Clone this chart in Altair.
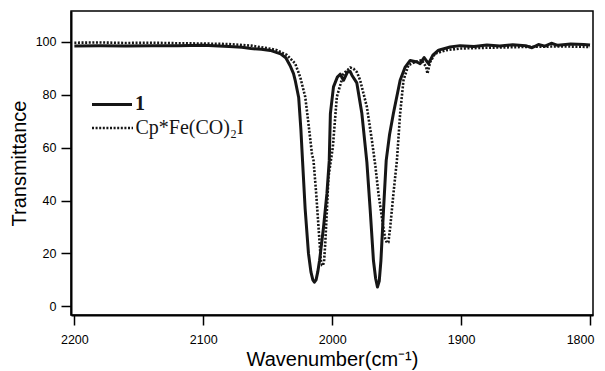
import altair as alt
import pandas as pd

# ---- data (wavenumber in cm^-1, transmittance %) ----
w1 = [2200, 2180, 2160, 2140, 2120, 2100, 2080, 2070, 2063, 2055, 2048, 2040, 2036,
      2032.6, 2030, 2028.7, 2026, 2024.3, 2023, 2021, 2018.4, 2016.5, 2015, 2013.8,
      2012.5, 2011.2, 2009.8, 2006.7, 2004.1, 2002.3, 2001.4, 1999, 1996, 1993.8,
      1991.2, 1988.1, 1986, 1984.7, 1980.9, 1977, 1973.1, 1970.5, 1968, 1966.3,
      1964.9, 1963.5, 1962.2, 1960.2, 1958.1, 1955.5, 1952.5, 1947.3, 1943.4,
      1939.5, 1934.3, 1931.8, 1928.7, 1925.3, 1921.9, 1917.5, 1908.5, 1900.8,
      1890, 1880, 1870, 1860, 1850, 1845, 1840, 1835, 1830, 1825, 1815, 1805, 1800]
t1 = [98.5, 98.6, 98.5, 98.6, 98.6, 98.7, 98.3, 98.0, 97.5, 97.2, 96.8, 95.5, 94.0,
      91.0, 88.0, 85.5, 79.0, 67.0, 55.0, 37.0, 20.0, 13.0, 10.0, 9.1,
      10.0, 13.0, 17.3, 30.0, 42.6, 55.0, 72.9, 83.0, 86.7, 87.8,
      85.5, 88.7, 88.8, 87.4, 84.5, 73.0, 54.5, 36.3, 17.3, 10.5,
      7.3, 9.5, 17.3, 36.3, 55.2, 65.0, 73.0, 85.5, 90.5,
      93.0, 92.4, 91.8, 94.1, 91.8, 95.0, 96.9, 98.1, 98.6,
      98.3, 98.8, 98.5, 98.9, 98.6, 97.8, 99.0, 98.4, 99.5, 98.7, 99.2, 99.0, 98.8]

w2 = [2200, 2180, 2160, 2140, 2120, 2100, 2080, 2063, 2050, 2042.9, 2035, 2028.7,
      2024.8, 2020.9, 2018.4, 2015.7, 2014.5, 2012.4, 2010.6, 2008.8, 2007.8, 2007.2,
      2006.3, 2005.4, 2004.1, 2002.9, 1999.5, 1996.4, 1991.2, 1986, 1983.5, 1980.9,
      1978.3, 1973.1, 1969.2, 1966.5, 1964.1, 1961.5, 1958.9, 1957.5, 1956.4, 1955,
      1952.5, 1949.8, 1947.3, 1944.7, 1940.9, 1935.7, 1930.5, 1927.1, 1926.1, 1924,
      1920.2, 1911.1, 1900.8, 1880, 1860, 1840, 1820, 1800]
t2 = [99.7, 99.8, 99.6, 99.7, 99.5, 99.4, 99.2, 98.6, 97.6, 96.9, 95.0, 91.8,
      86.7, 79.2, 69.1, 57.7, 55.2, 42.6, 29.9, 17.3, 15.5, 15.4,
      17.0, 23.6, 36.3, 48.9, 60.2, 79.2, 88.0, 90.3, 89.9, 88.6,
      85.5, 75.4, 62.8, 53.0, 42.6, 33.7, 25.5, 24.0, 24.2, 29.9,
      42.6, 55.2, 72.9, 85.5, 91.2, 92.4, 93.1, 90.5, 88.0, 92.4,
      95.6, 96.9, 97.5, 97.8, 98.0, 98.2, 98.3, 98.1]

x_ticks = [2200, 2100, 2000, 1900, 1800]
y_ticks = [0, 20, 40, 60, 80, 100]
series_names = ["1", "Cp*Fe(CO)\u2082I"]

df1 = pd.DataFrame({"w": w1, "t": t1})
df2 = pd.DataFrame({"w": w2, "t": t2})

LINE = "#161616"
INK = "#000000"

xscale = alt.Scale(domain=[1797.7, 2202.6], reverse=True, nice=False, zero=False)
yscale = alt.Scale(domain=[-3.3, 111.7], nice=False, zero=False)

xaxis = alt.Axis(values=x_ticks, title="Wavenumber(cm\u207b\u00b9)", grid=False,
                 labelFont="Liberation Sans", labelFontSize=12.5, labelColor=INK,
                 titleFont="Liberation Sans", titleFontSize=20, titleFontWeight="normal",
                 titleColor=INK, tickSize=10, tickWidth=1.5, tickColor=INK,
                 domainColor=INK, domainWidth=2, labelPadding=8, titlePadding=4,
                 format="d", labelFlush=False,
                 labelOffset={"condition": {"test": "datum.value == 1800", "value": -10},
                              "value": 0})
yaxis = alt.Axis(values=y_ticks, title="Transmittance", grid=False,
                 labelFont="Liberation Sans", labelFontSize=12.5, labelColor=INK,
                 titleFont="Liberation Sans", titleFontSize=20, titleFontWeight="normal",
                 titleColor=INK, tickSize=10, tickWidth=1.5, tickColor=INK,
                 domainColor=INK, domainWidth=2, labelPadding=5, titlePadding=6,
                 format="d")

line1 = alt.Chart(df1).mark_line(color=LINE, strokeWidth=3, clip=True,
                                 strokeJoin="round").encode(
    x=alt.X("w:Q", scale=xscale, axis=xaxis),
    y=alt.Y("t:Q", scale=yscale, axis=yaxis),
    order=alt.Order("w:Q", sort="descending"),
)
line2 = alt.Chart(df2).mark_line(color=LINE, strokeWidth=2.6, clip=True,
                                 strokeDash=[2, 1.6], strokeCap="butt").encode(
    x=alt.X("w:Q", scale=xscale),
    y=alt.Y("t:Q", scale=yscale),
    order=alt.Order("w:Q", sort="descending"),
)

# ---- legend (drawn inside the plot, top-left) ----
leg1 = pd.DataFrame({"label": [series_names[0]]})
leg2 = pd.DataFrame({"label": [series_names[1]]})

leg_rule1 = alt.Chart(leg1).mark_rule(color=LINE, strokeWidth=3).encode(
    x=alt.value(21), x2=alt.value(61), y=alt.value(93.6))
leg_rule2 = alt.Chart(leg2).mark_rule(color=LINE, strokeWidth=2.6,
                                      strokeDash=[2, 1.6]).encode(
    x=alt.value(21), x2=alt.value(62), y=alt.value(117))
leg_text1 = alt.Chart(leg1).mark_text(align="left", baseline="middle",
                                      font="Liberation Serif", fontSize=20,
                                      fontWeight="bold", color=LINE).encode(
    x=alt.value(64), y=alt.value(93), text="label:N")
leg_text2 = alt.Chart(leg2).mark_text(align="left", baseline="middle",
                                      font="Liberation Serif", fontSize=20,
                                      color=LINE).encode(
    x=alt.value(64.5), y=alt.value(116.5), text="label:N")

chart = alt.layer(line1, line2, leg_rule1, leg_rule2, leg_text1, leg_text2).properties(
    width=522, height=304,
    autosize=alt.AutoSizeParams(type="none"),
    padding={"left": 63, "top": 3, "right": 4, "bottom": 56},
    background="white",
).configure_view(stroke=INK, strokeWidth=1.5)

chart.save("out.html", embed_options={"renderer": "svg", "actions": False})
